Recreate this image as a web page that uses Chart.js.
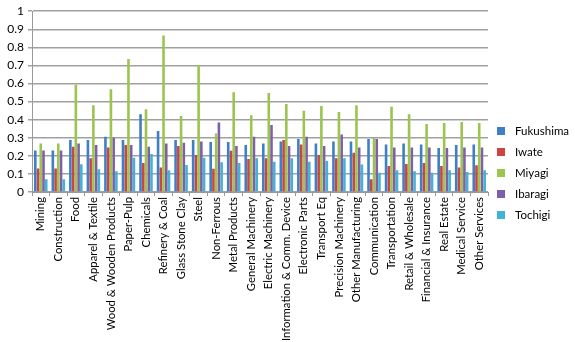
<!DOCTYPE html>
<html>
<head>
<meta charset="utf-8">
<script src="https://cdn.jsdelivr.net/npm/chart.js@4"></script>
<style>
  html, body { margin: 0; padding: 0; background: #fff; }
  #wrap { width: 575px; height: 342px; }
</style>
</head>
<body>
<div id="wrap"><canvas id="chart" width="575" height="342"></canvas></div>
<script>
const industries = ['Mining', 'Construction', 'Food', 'Apparel & Textile', 'Wood & Wooden Products',
    'Paper-Pulp', 'Chemicals', 'Refinery & Coal', 'Glass Stone Clay', 'Steel', 'Non-Ferrous',
    'Metal Products', 'General Machinery', 'Electric Machinery', 'Information & Comm. Device',
    'Electronic Parts', 'Transport Eq', 'Precision Machinery', 'Other Manufacturing',
    'Communication', 'Transportation', 'Retail & Wholesale', 'Financial & Insurance',
    'Real Estate', 'Medical Service', 'Other Services'];

const fukushima = [0.23, 0.23, 0.287, 0.287, 0.305, 0.287, 0.43, 0.337, 0.287, 0.287, 0.276,
    0.276, 0.26, 0.268, 0.28, 0.293, 0.268, 0.28, 0.28, 0.293, 0.263, 0.268, 0.263, 0.243, 0.26, 0.263];
const iwate = [0.13, 0.13, 0.25, 0.187, 0.246, 0.26, 0.16, 0.135, 0.255, 0.204, 0.128,
    0.228, 0.183, 0.187, 0.287, 0.263, 0.204, 0.187, 0.217, 0.07, 0.144, 0.155, 0.16, 0.144, 0.135, 0.148];
const miyagi = [0.268, 0.268, 0.593, 0.48, 0.568, 0.735, 0.457, 0.865, 0.42, 0.703, 0.324,
    0.552, 0.424, 0.548, 0.487, 0.45, 0.476, 0.443, 0.48, 0.298, 0.472, 0.43, 0.376, 0.381, 0.387, 0.381];
const ibaragi = [0.23, 0.23, 0.268, 0.26, 0.3, 0.26, 0.25, 0.268, 0.272, 0.28, 0.385,
    0.255, 0.305, 0.37, 0.255, 0.305, 0.255, 0.318, 0.246, 0.293, 0.246, 0.246, 0.246, 0.243, 0.246, 0.246];
const tochigi = [0.07, 0.07, 0.154, 0.126, 0.115, 0.19, 0.21, 0.12, 0.15, 0.19, 0.165,
    0.16, 0.187, 0.168, 0.187, 0.168, 0.172, 0.187, 0.152, 0.106, 0.12, 0.115, 0.106, 0.12, 0.11, 0.12];

const yTicks = [0, 0.1, 0.2, 0.3, 0.4, 0.5, 0.6, 0.7, 0.8, 0.9, 1];

const series = [
    { label: 'Fukushima', data: fukushima, color: '#3f7fc6' },
    { label: 'Iwate', data: iwate, color: '#cc4540' },
    { label: 'Miyagi', data: miyagi, color: '#9cc44e' },
    { label: 'Ibaragi', data: ibaragi, color: '#7f60a8' },
    { label: 'Tochigi', data: tochigi, color: '#3fb4d6' }
];

const font = "Lato, 'Liberation Sans', sans-serif";

// legend drawn by hand on the right so the swatch/text spacing can be set
const sideLegend = {
    id: 'sideLegend',
    afterDraw(chart) {
        const ctx = chart.ctx;
        const sets = chart.data.datasets;
        const step = 21;
        const x = chart.chartArea.right + 9;
        const top = chart.height / 2 + 2 - step * (sets.length - 1) / 2;
        ctx.save();
        ctx.font = '11.5px ' + font;
        ctx.textBaseline = 'middle';
        ctx.fillStyle = '#000';
        sets.forEach((ds, i) => {
            const y = top + i * step;
            ctx.fillStyle = ds.backgroundColor;
            ctx.fillRect(x, y - 4, 8, 8);
            ctx.fillStyle = '#000';
            ctx.fillText(ds.label, x + 18, y);
        });
        ctx.restore();
    }
};

new Chart(document.getElementById('chart'), {
    type: 'bar',
    data: {
        labels: industries,
        datasets: series.map(s => ({
            label: s.label,
            data: s.data,
            backgroundColor: s.color,
            borderWidth: 0,
            categoryPercentage: 0.78,
            barPercentage: 0.95
        }))
    },
    options: {
        responsive: false,
        animation: false,
        layout: { padding: { top: 6, right: 87, left: 0, bottom: 0 } },
        plugins: {
            tooltip: { enabled: false },
            legend: { display: false }
        },
        scales: {
            x: {
                grid: {
                    display: true,
                    drawOnChartArea: false,
                    offset: true,
                    color: '#999',
                    tickLength: 4
                },
                border: { color: '#999' },
                ticks: {
                    autoSkip: false,
                    maxRotation: 90,
                    minRotation: 90,
                    color: '#000',
                    padding: 1,
                    font: { family: font, size: 11.3 }
                },
                afterFit: axis => { axis.height = 150; }
            },
            y: {
                min: 0,
                max: 1,
                afterBuildTicks: axis => { axis.ticks = yTicks.map(v => ({ value: v })); },
                grid: { color: '#a0a0a0', lineWidth: 1.5, tickLength: 4 },
                border: { color: '#999' },
                ticks: {
                    color: '#000',
                    padding: 4,
                    font: { family: font, size: 12 },
                    callback: v => String(Math.round(v * 10) / 10)
                },
                afterFit: axis => { axis.width = 32; }
            }
        }
    },
    plugins: [sideLegend]
});
</script>
</body>
</html>
